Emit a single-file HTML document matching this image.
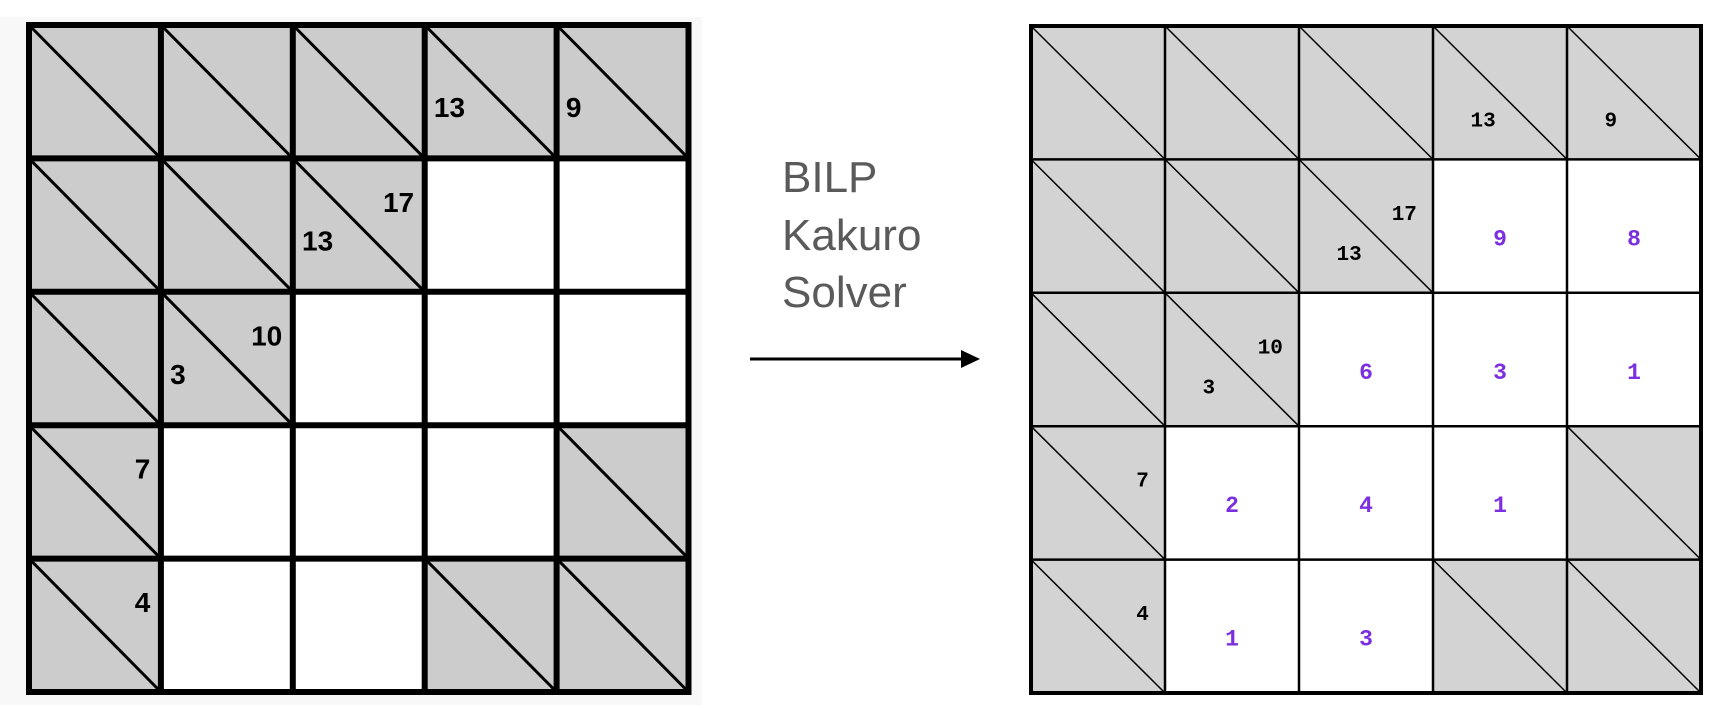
<!DOCTYPE html>
<html><head><meta charset="utf-8"><style>
html,body{margin:0;padding:0;background:#fff;}
svg{display:block;}
</style></head><body>
<svg id="chart" width="1722" height="708" xmlns="http://www.w3.org/2000/svg">
<rect x="0" y="17" width="702" height="688" fill="#f8f8f8"/>
<g id="left"></g>
<g id="right"></g>
<g font-family="Liberation Sans, sans-serif" font-size="44" fill="#5a5a5a">
<text x="782" y="192">BILP</text>
<text x="782" y="250">Kakuro</text>
<text x="782" y="307">Solver</text>
</g>
<line x1="750" y1="359" x2="965" y2="359" stroke="#000" stroke-width="3"/>
<polygon points="980,359 961,350 961,368" fill="#000"/>
</svg>
<script>
// grid layout: 'b' = blocked, 'w' = white
const layout = [
 ['b','b','b','b','b'],
 ['b','b','b','w','w'],
 ['b','b','w','w','w'],
 ['b','w','w','w','b'],
 ['b','w','w','b','b']];
// clues: [row, col, down, across]
const clues = [[0,3,13,null],[0,4,9,null],[1,2,13,17],[2,1,3,10],[3,0,null,7],[4,0,null,4]];
// solution values: [row, col, value]
const solution = [[1,3,9],[1,4,8],[2,2,6],[2,3,3],[2,4,1],[3,1,2],[3,2,4],[3,3,1],[4,1,1],[4,2,3]];
const NS='http://www.w3.org/2000/svg';
function mk(parent,tag,attrs){const e=document.createElementNS(NS,tag);for(const k in attrs)e.setAttribute(k,attrs[k]);parent.appendChild(e);return e;}
function drawGrid(gid,x0,y0,cw,ch,opt){
 const g=document.getElementById(gid);
 for(let r=0;r<5;r++)for(let c=0;c<5;c++){
  const x=x0+c*cw,y=y0+r*ch;
  const cell=mk(g,'rect',{x:x,y:y,width:cw,height:ch,fill:layout[r][c]==='b'?opt.gray:'#fff'});
  
  
  if(layout[r][c]==='b'){
   const d=mk(g,'line',{x1:x,y1:y,x2:x+cw,y2:y+ch,stroke:'#000','stroke-width':opt.diag});
   
   
  }
 }
 for(let i=0;i<=5;i++){
  const w=(i===0||i===5)?opt.outer:opt.inner;
  const v=mk(g,'line',{x1:x0+i*cw,y1:y0-opt.outer/2,x2:x0+i*cw,y2:y0+5*ch+opt.outer/2,stroke:'#000','stroke-width':w});
  
  
  const h=mk(g,'line',{x1:x0-opt.outer/2,y1:y0+i*ch,x2:x0+5*cw+opt.outer/2,y2:y0+i*ch,stroke:'#000','stroke-width':w});
  
  
 }
 clues.forEach(([r,c,dn,ac])=>{
  const x=x0+c*cw,y=y0+r*ch;
  if(dn!==null){
   const t=mk(g,'text',{x:x+opt.dx*cw,y:y+opt.dy*ch,'font-family':opt.font,'font-size':opt.fs,'font-weight':'bold',fill:'#000','dominant-baseline':'central'});
   t.textContent=dn;
   
   
  }
  if(ac!==null){
   const t=mk(g,'text',{x:x+opt.ax*cw,y:y+opt.ay*ch,'font-family':opt.font,'font-size':opt.fs,'font-weight':'bold',fill:'#000','text-anchor':'end','dominant-baseline':'central'});
   t.textContent=ac;
   
   
  }
 });
 if(opt.sol){
  solution.forEach(([r,c,v])=>{
   const t=mk(g,'text',{x:x0+(c+0.5)*cw,y:y0+(r+0.6)*ch,'font-family':opt.font,'font-size':opt.fs+2,'font-weight':'bold',fill:'#7b2fe0','text-anchor':'middle','dominant-baseline':'central'});
   t.textContent=v;
   
   
  });
 }
}
drawGrid('left',29,25,131.9,133.4,{gray:'#cccccc',diag:3,inner:6,outer:6,font:'Liberation Sans, sans-serif',fs:28,dx:0.07,dy:0.62,ax:0.92,ay:0.33,sol:false});
drawGrid('right',1031,26,134.0,133.4,{gray:'#d3d3d3',diag:1.5,inner:2.5,outer:4,font:'Liberation Mono, monospace',fs:21,dx:0.28,dy:0.72,ax:0.88,ay:0.42,sol:true});
</script>
</body></html>
